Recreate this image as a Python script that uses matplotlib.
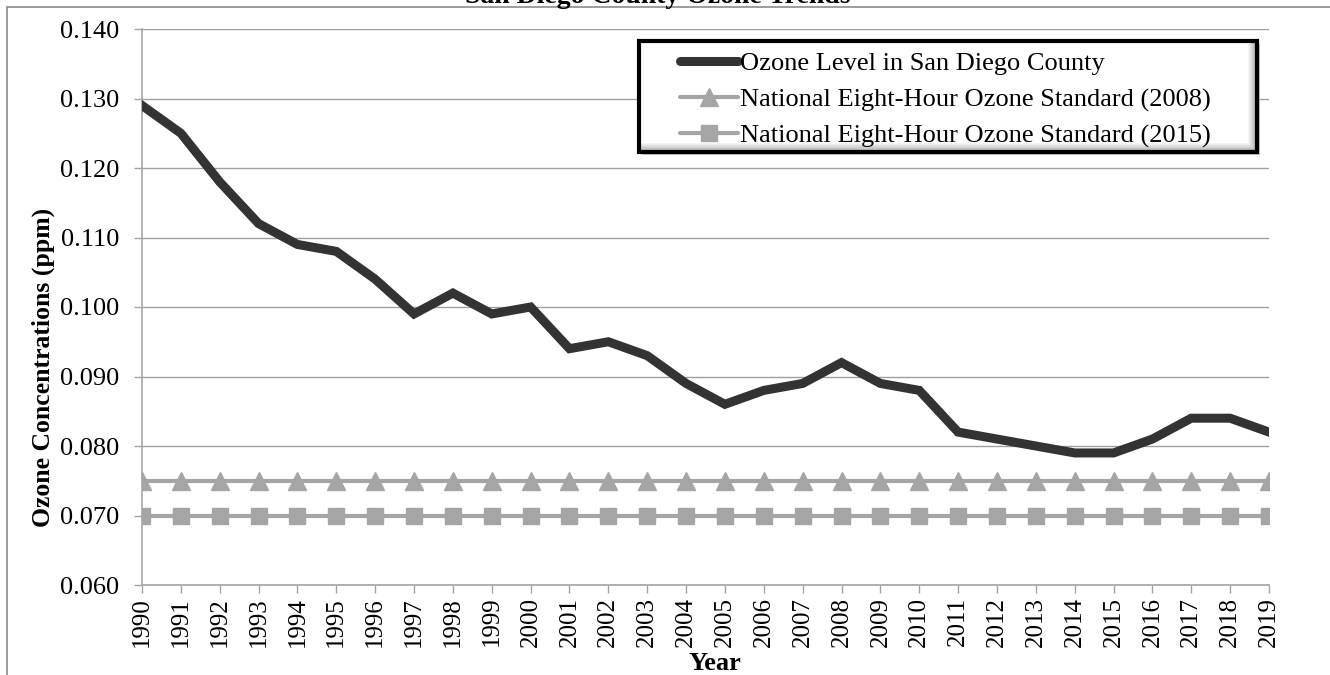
import matplotlib
matplotlib.use("Agg")
import matplotlib.pyplot as plt
from matplotlib.patches import Rectangle

plt.rcParams['font.family'] = ['Liberation Serif', 'DejaVu Serif']

years = list(range(1990, 2020))
ozone = [0.129, 0.125, 0.118, 0.112, 0.109, 0.108, 0.104, 0.099, 0.102, 0.099,
         0.100, 0.094, 0.095, 0.093, 0.089, 0.086, 0.088, 0.089, 0.092, 0.089,
         0.088, 0.082, 0.081, 0.080, 0.079, 0.079, 0.081, 0.084, 0.084, 0.082]
std_2008 = [0.075] * len(years)
std_2015 = [0.070] * len(years)
y_ticks = [0.060, 0.070, 0.080, 0.090, 0.100, 0.110, 0.120, 0.130, 0.140]

W, H = 1330, 675
fig = plt.figure(figsize=(W / 100, H / 100), dpi=100)
ax = fig.add_axes([142 / W, 1 - 585 / H, (1269 - 142) / W, (585 - 29) / H])

gray = '#a5a5a5'
ax.plot(years, ozone, color='#333333', lw=6.5, solid_joinstyle='miter',
        label='Ozone Level in San Diego County', zorder=5)
ax.plot(years, std_2008, color=gray, lw=3, marker='^', markersize=13,
        label='National Eight-Hour Ozone Standard (2008)', zorder=4)
ax.plot(years, std_2015, color=gray, lw=3, marker='s', markersize=11,
        label='National Eight-Hour Ozone Standard (2015)', zorder=4)

ax.set_xlim(1990, 2019)
ax.set_ylim(0.060, 0.140)
ax.set_yticks(y_ticks)
ax.set_yticklabels(['%.3f' % v for v in y_ticks])
ax.set_xticks(years)
ax.set_xticklabels([str(y) for y in years], rotation=90)
ax.tick_params(axis='both', color=gray, length=5.5, width=1)
ax.tick_params(axis='y', pad=11, labelsize=19)
ax.tick_params(axis='x', pad=3, labelsize=18)
ax.grid(axis='y', color='#a0a0a0', lw=1)
ax.set_axisbelow(True)
for s in ['top', 'right']:
    ax.spines[s].set_visible(False)
for s in ['left', 'bottom']:
    ax.spines[s].set_color(gray)
    ax.spines[s].set_linewidth(1.2)

fig.text(43 / W, 1 - 367 / H, 'Ozone Concentrations (ppm)', fontsize=18.5,
         fontweight='bold', rotation=90, ha='center', va='center')
fig.text(715 / W, 1 - 670 / H, 'Year', fontsize=19, fontweight='bold',
         ha='center', va='baseline')
fig.text(658 / W, 1 - 3 / H, 'San Diego County Ozone Trends', fontsize=20,
         fontweight='bold', ha='center', va='baseline')

# outer chart frame (only left and top edges fall inside the picture)
fig.patches.append(Rectangle((7 / W, -0.2), 1.2, 1.2 - 7 / H, transform=fig.transFigure,
                             fill=False, edgecolor='#8c8c8c', lw=1.2))

# legend box drawn by hand: wide side padding, tight top/bottom
bx0, bx1, by0, by1 = 639, 1257, 41, 152
ax.add_patch(Rectangle((bx0 / W + 3 / W, 1 - (by1 + 3) / H), (bx1 - bx0) / W, (by1 - by0) / H,
                       transform=fig.transFigure, facecolor='#c8c8c8', edgecolor='none',
                       zorder=6, clip_on=False))
ax.add_patch(Rectangle((bx0 / W, 1 - by1 / H), (bx1 - bx0) / W, (by1 - by0) / H,
                       transform=fig.transFigure, facecolor='white', edgecolor='none',
                       zorder=6.1, clip_on=False))
# soft bevel on the inner right and bottom edges
shades = ['#f4f4f4', '#ececec', '#e2e2e2', '#d8d8d8', '#cecece', '#c4c4c4', '#bbbbbb', '#b3b3b3']
for i, c in enumerate(shades):
    ax.add_patch(Rectangle(((bx1 - 9 + i) / W, 1 - by1 / H), 1 / W, (by1 - by0) / H,
                           transform=fig.transFigure, facecolor=c, edgecolor='none',
                           zorder=6.2, clip_on=False))
    ax.add_patch(Rectangle((bx0 / W, 1 - (by1 - 8 + i) / H), (bx1 - bx0) / W, 1 / H,
                           transform=fig.transFigure, facecolor=c, edgecolor='none',
                           zorder=6.2, clip_on=False))
ax.add_patch(Rectangle((bx0 / W, 1 - by1 / H), (bx1 - bx0) / W, (by1 - by0) / H,
                       transform=fig.transFigure, fill=False, edgecolor='black', lw=3,
                       zorder=6.3, clip_on=False))

leg = ax.legend(loc='upper left', bbox_to_anchor=(680 / W, 1 - 52 / H),
                bbox_transform=fig.transFigure, borderaxespad=0, borderpad=0,
                fontsize=19, handlelength=2.2, handletextpad=0.08, labelspacing=0.47,
                frameon=False)
leg.set_zorder(7)
for ln in leg.get_lines():
    ln.set_solid_capstyle('round')

fig.savefig('out.png', dpi=100)
